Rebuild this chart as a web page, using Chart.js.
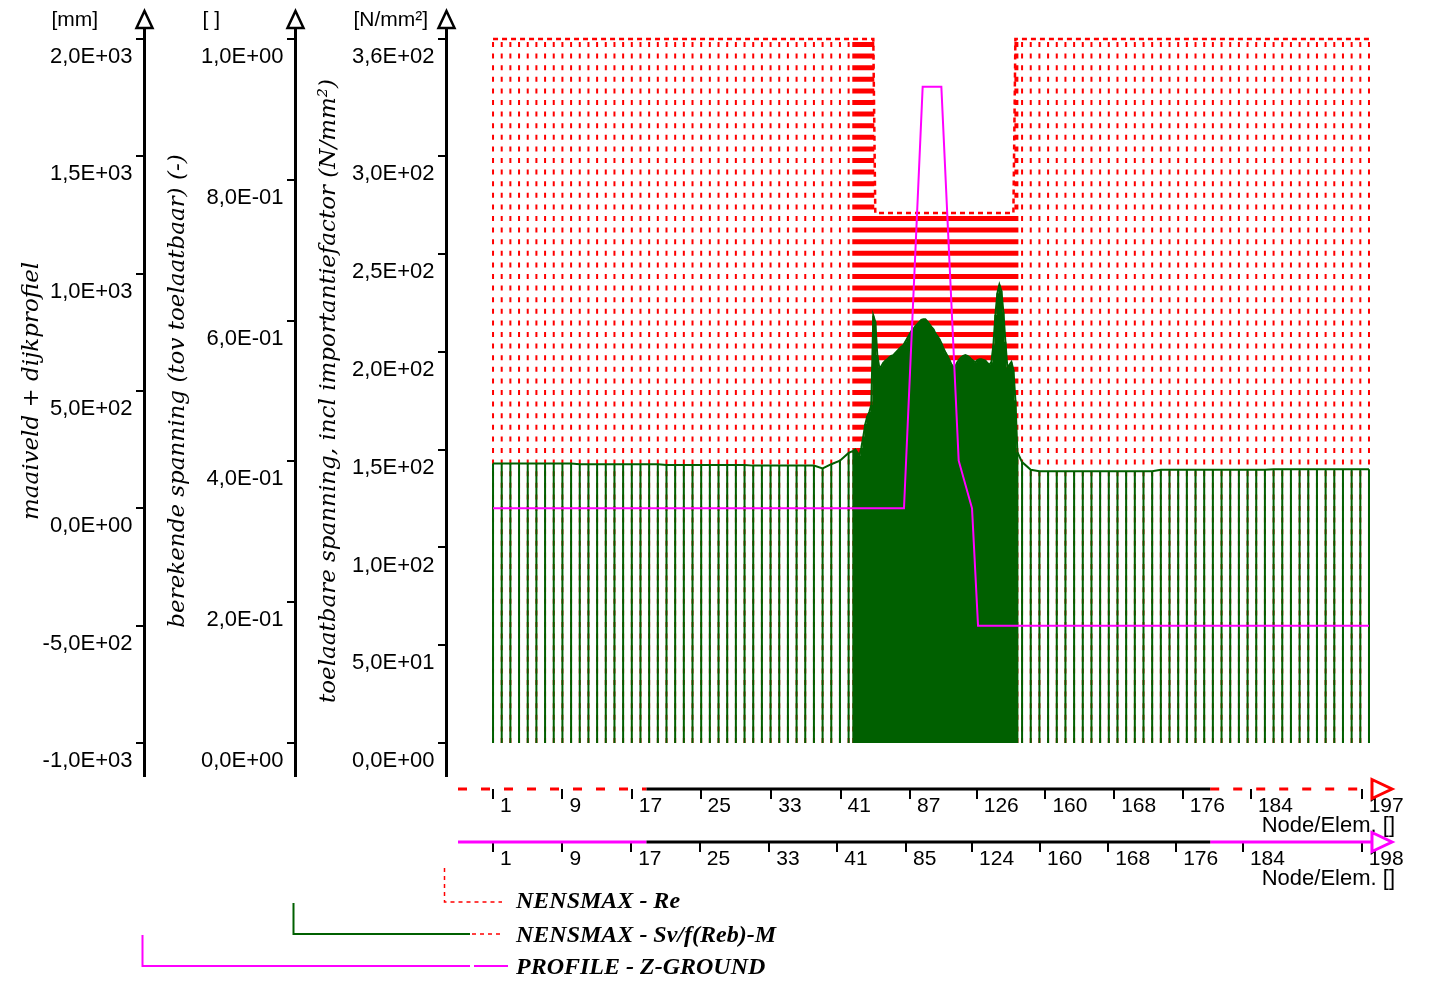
<!DOCTYPE html>
<html lang="nl">
<head>
<meta charset="utf-8">
<title>NENSMAX - spanningsverloop langs de leiding</title>
<script src="https://cdn.jsdelivr.net/npm/chart.js@4.4.1/dist/chart.umd.min.js"></script>
<style>
  html, body { margin: 0; padding: 0; background: #fff; }
  canvas { display: block; }
</style>
</head>
<body>
<canvas id="grafiek" width="1431" height="983"></canvas>
<script>
// Knooppunten langs de leiding (positie langs de as): links, dijkvak, rechts
const knoopXLinks = [0, 13, 26, 39, 52, 65, 78, 91, 104, 117, 130, 143, 156, 169, 182, 195, 208, 221, 234, 247,
  260, 273, 286, 299, 312, 325, 338, 351, 364, 377, 390, 403, 416, 429, 442, 455, 468, 481, 494, 507, 520, 533];
const knoopXDijk = [540, 543, 546, 549, 552, 555, 558, 561, 564, 567,
  570, 573, 576, 579, 582, 585, 588, 591, 594, 597,
  600, 603, 606, 609, 612, 615, 618, 621, 624, 627,
  630, 633, 636, 639, 642, 645, 648, 651, 654, 657,
  660, 663, 666, 669, 672, 675, 678, 681, 684, 687,
  690, 693, 696, 699, 702, 705, 708, 711, 714, 717,
  720, 723, 726, 729, 732, 735, 738, 741, 744, 747,
  750, 753, 756, 759, 762, 765, 768, 771, 774, 777,
  780, 783, 786];
const knoopXRechts = [793, 806, 819, 832, 845, 858, 871, 884, 897, 910,
  923, 936, 949, 962, 975, 988, 1001, 1014, 1027, 1040,
  1053, 1066, 1079, 1092, 1105, 1118, 1131, 1144, 1157, 1170,
  1183, 1196, 1209, 1222, 1235, 1248, 1261, 1274, 1287, 1300, 1313];

// NENSMAX - Re: toelaatbare spanning per knoop [N/mm2]
const reLinks = [360, 360, 360, 360, 360, 360, 360, 360, 360, 360, 360, 360, 360, 360, 360, 360, 360, 360, 360, 360, 360,
  360, 360, 360, 360, 360, 360, 360, 360, 360, 360, 360, 360, 360, 360, 360, 360, 360, 360, 360, 360, 360];
const reDijk = [360, 360, 360, 360, 360, 360, 360, 360, 360, 360,
  360, 271, 271, 271, 271, 271, 271, 271, 271, 271,
  271, 271, 271, 271, 271, 271, 271, 271, 271, 271,
  271, 271, 271, 271, 271, 271, 271, 271, 271, 271,
  271, 271, 271, 271, 271, 271, 271, 271, 271, 271,
  271, 271, 271, 271, 271, 271, 271, 271, 271, 271,
  271, 271, 271, 271, 271, 271, 271, 271, 271, 271,
  271, 271, 271, 271, 271, 271, 271, 271, 271, 271,
  271, 360, 360];
const reRechts = [360, 360, 360, 360, 360, 360, 360, 360, 360, 360, 360, 360, 360, 360, 360, 360, 360, 360, 360, 360, 360,
  360, 360, 360, 360, 360, 360, 360, 360, 360, 360, 360, 360, 360, 360, 360, 360, 360, 360, 360, 360];

// NENSMAX - Sv/f(Reb)-M: berekende spanning t.o.v. toelaatbaar [-]
const svLinks = [0.397, 0.397, 0.397, 0.397, 0.397, 0.397, 0.397, 0.397, 0.397, 0.397,
  0.396, 0.396, 0.396, 0.396, 0.396, 0.396, 0.396, 0.396, 0.396, 0.396,
  0.395, 0.395, 0.395, 0.395, 0.395, 0.395, 0.395, 0.395, 0.395, 0.395,
  0.394, 0.394, 0.394, 0.394, 0.394, 0.394, 0.394, 0.394, 0.390, 0.396, 0.401, 0.412];
const svDijk = [0.415, 0.417, 0.413, 0.408, 0.419, 0.435, 0.453, 0.464, 0.470, 0.480,
  0.607, 0.598, 0.551, 0.533, 0.535, 0.540, 0.543, 0.545, 0.548, 0.550,
  0.551, 0.554, 0.557, 0.560, 0.563, 0.565, 0.570, 0.575, 0.580, 0.585,
  0.588, 0.592, 0.595, 0.598, 0.601, 0.602, 0.602, 0.599, 0.595, 0.591,
  0.588, 0.582, 0.578, 0.574, 0.568, 0.561, 0.555, 0.550, 0.544, 0.538,
  0.534, 0.535, 0.541, 0.545, 0.548, 0.550, 0.551, 0.550, 0.548, 0.545,
  0.543, 0.541, 0.544, 0.545, 0.545, 0.544, 0.543, 0.540, 0.537, 0.541,
  0.565, 0.608, 0.639, 0.651, 0.642, 0.612, 0.570, 0.533, 0.537, 0.541,
  0.530, 0.487, 0.413];
const svRechts = [0.399, 0.388, 0.386, 0.386, 0.386, 0.386, 0.386, 0.386, 0.386, 0.386,
  0.386, 0.386, 0.386, 0.386, 0.386, 0.386, 0.388, 0.388, 0.388, 0.388,
  0.388, 0.388, 0.388, 0.388, 0.388, 0.388, 0.388, 0.388, 0.388, 0.389,
  0.389, 0.389, 0.389, 0.389, 0.389, 0.389, 0.389, 0.389, 0.389, 0.389, 0.389];

// PROFILE - Z-GROUND: maaiveld + dijkprofiel [mm]
const profielX = [0, 616, 644, 672, 698, 718, 727, 1313];
const profielZ = [0, 0, 1797, 1797, 203, 0, -500, -500];

// Asindeling
const elemTickPos = [0, 104, 208, 311, 417, 521, 625, 725, 828, 931, 1034, 1136, 1302];
const elemTickLabels = ['1', '9', '17', '25', '33', '41', '87', '126', '160', '168', '176', '184', '197'];
const profTickPos = [0, 104, 207, 310, 414, 516, 619, 718, 820, 922, 1024, 1124, 1302];
const profTickLabels = ['1', '9', '17', '25', '33', '41', '85', '124', '160', '168', '176', '184', '198'];
const mmTicks = [-1000, -500, 0, 500, 1000, 1500, 2000];
const ratioTicks = [0, 0.2, 0.4, 0.6, 0.8, 1];
const spanningTicks = [0, 50, 100, 150, 200, 250, 300, 360];

const X_MIN = -67.5, X_MAX = 1352;
const asVan = -52.5, bereikVan = 230, bereikTot = 1075, asTot = 1317.5;

const GROEN = '#006000', ROOD = '#ff0000', MAGENTA = '#ff00ff';
const SANS = '"Liberation Sans", Arial, sans-serif';

const knoopX = knoopXLinks.concat(knoopXDijk, knoopXRechts);
const re = reLinks.concat(reDijk, reRechts);
const sv = svLinks.concat(svDijk, svRechts);

// verticale lijn per knoop, van 0 tot de waarde
function staven(waarden) {
  const punten = [];
  knoopX.forEach((x, i) => {
    punten.push({ x: x, y: 0 }, { x: x, y: waarden[i] }, { x: x, y: null });
  });
  return punten;
}
const verloop = waarden => knoopX.map((x, i) => ({ x: x, y: waarden[i] }));

// 2000 -> "2,0E+03"
function eNotatie(v) {
  if (v === 0) return '0,0E+00';
  const exp = Math.floor(Math.log10(Math.abs(v)) + 1e-9);
  const mant = (v / Math.pow(10, exp)).toFixed(1).replace('.', ',');
  return mant + 'E' + (exp < 0 ? '-' : '+') + String(Math.abs(exp)).padStart(2, '0');
}

function yAs(titel, min, max, tickWaarden, breedte, gewicht) {
  return {
    type: 'linear', position: 'left', min: min, max: max, weight: gewicht,
    afterBuildTicks: s => { s.ticks = tickWaarden.map(v => ({ value: v })); },
    afterFit: s => { s.width = breedte; s.paddingTop = 0; s.paddingBottom = 0; },
    border: { display: false },
    grid: { drawOnChartArea: false, drawTicks: true, tickLength: 10, color: '#000', lineWidth: 2 },
    ticks: {
      callback: v => eNotatie(v), color: '#000', padding: 3.5, labelOffset: 18,
      autoSkip: false, font: { family: SANS, size: 22 }
    },
    title: {
      display: true, text: titel, color: '#000',
      font: { family: '"DejaVu Serif", serif', style: 'italic', size: 23 },
      padding: { top: 18, bottom: 0 }
    }
  };
}

function xAs(tickPos, tickLabels, hoogte, gewicht, titelMarge) {
  return {
    type: 'linear', position: 'bottom', min: X_MIN, max: X_MAX, weight: gewicht,
    afterBuildTicks: s => { s.ticks = tickPos.map(v => ({ value: v })); },
    afterFit: s => { s.height = hoogte; s.paddingLeft = 0; s.paddingRight = 0; },
    border: { display: false },
    grid: { drawOnChartArea: false, drawTicks: true, tickLength: 10, color: '#000', lineWidth: 2 },
    ticks: {
      callback: (v, i) => tickLabels[i], color: '#000', align: 'start', labelOffset: 7,
      padding: -5, maxRotation: 0, autoSkip: false, font: { family: SANS, size: 21 }
    },
    title: {
      display: true, text: 'Node/Elem. []', align: 'end', color: '#000',
      font: { family: SANS, size: 22 }, padding: { top: 0, bottom: titelMarge }
    }
  };
}

const yAssen = [
  { id: 'yMaaiveld', eenheid: '[mm]' },
  { id: 'yRatio', eenheid: '[ ]' },
  { id: 'ySpanning', eenheid: '[N/mm\u00b2]' }
];

// assen, pijlpunten en legenda met verbindingslijnen
const decoratie = {
  id: 'decoratie',
  afterDraw(chart) {
    const { ctx, chartArea: ca, scales } = chart;
    ctx.save();
    ctx.lineCap = 'butt';

    yAssen.forEach(a => {
      const ax = scales[a.id].right - 1.5;
      ctx.setLineDash([]);
      ctx.strokeStyle = '#000';
      ctx.lineWidth = 3;
      ctx.beginPath();
      ctx.moveTo(ax, ca.top - 11);
      ctx.lineTo(ax, ca.bottom + 34);
      ctx.stroke();
      ctx.beginPath();
      ctx.moveTo(ax, ca.top - 28);
      ctx.lineTo(ax + 8, ca.top - 11);
      ctx.lineTo(ax - 8, ca.top - 11);
      ctx.closePath();
      ctx.fillStyle = '#fff';
      ctx.fill();
      ctx.lineWidth = 2.5;
      ctx.stroke();
      ctx.fillStyle = '#000';
      ctx.font = '21px ' + SANS;
      ctx.textAlign = 'left';
      ctx.textBaseline = 'middle';
      ctx.fillText(a.eenheid, ax - 93, ca.top - 19);
    });

    const sx = scales.x;
    const p0 = sx.getPixelForValue(asVan), p1 = sx.getPixelForValue(bereikVan);
    const p2 = sx.getPixelForValue(bereikTot), p3 = sx.getPixelForValue(asTot);
    const lijn = (xa, ya, xb, yb) => { ctx.beginPath(); ctx.moveTo(xa, ya); ctx.lineTo(xb, yb); ctx.stroke(); };
    const asLijn = (y, kleur, streep) => {
      ctx.lineWidth = 3;
      ctx.strokeStyle = kleur;
      ctx.setLineDash(streep);
      lijn(p0, y, p1, y);
      lijn(p2, y, p3, y);
      ctx.setLineDash([]);
      ctx.strokeStyle = '#000';
      lijn(p1, y, p2, y);
      ctx.beginPath();
      ctx.moveTo(p3, y - 9.5);
      ctx.lineTo(p3 + 20, y);
      ctx.lineTo(p3, y + 9.5);
      ctx.closePath();
      ctx.fillStyle = '#fff';
      ctx.fill();
      ctx.strokeStyle = kleur;
      ctx.stroke();
    };
    asLijn(scales.xElem.top, ROOD, [9, 14]);
    asLijn(scales.xProf.top, MAGENTA, []);

    // legenda
    const r = scales.ySpanning.right - 3.5;
    const g = scales.yRatio.right - 3.5;
    const m = scales.yMaaiveld.right - 3.5;
    ctx.lineWidth = 1.5;
    ctx.strokeStyle = ROOD;
    ctx.setLineDash([4, 4]);
    ctx.beginPath(); ctx.moveTo(r, 868); ctx.lineTo(r, 902); ctx.lineTo(502, 902); ctx.stroke();
    lijn(472, 934, 502, 934);
    ctx.setLineDash([]);
    ctx.lineWidth = 2;
    ctx.strokeStyle = GROEN;
    ctx.beginPath(); ctx.moveTo(g, 903); ctx.lineTo(g, 934); ctx.lineTo(470, 934); ctx.stroke();
    ctx.strokeStyle = MAGENTA;
    ctx.beginPath(); ctx.moveTo(m, 935); ctx.lineTo(m, 966); ctx.lineTo(470, 966); ctx.stroke();
    lijn(474, 966, 508, 966);

    ctx.fillStyle = '#000';
    ctx.font = 'italic bold 24px "Liberation Serif", serif';
    ctx.textAlign = 'left';
    ctx.textBaseline = 'alphabetic';
    const ds = chart.data.datasets;
    ctx.fillText(ds[3].label, 516, 908);
    ctx.fillText(ds[1].label, 516, 941.5);
    ctx.fillText(ds[0].label, 516, 973.5);
    ctx.restore();
  }
};

const lijnStijl = { pointRadius: 0, fill: false, tension: 0, spanGaps: false, xAxisID: 'x', clip: 4 };

new Chart(document.getElementById('grafiek'), {
  type: 'line',
  data: {
    datasets: [
      Object.assign({
        label: 'PROFILE - Z-GROUND', order: 0, yAxisID: 'yMaaiveld',
        data: profielX.map((x, i) => ({ x: x, y: profielZ[i] })),
        borderColor: MAGENTA, borderWidth: 2
      }, lijnStijl),
      Object.assign({
        label: 'NENSMAX - Sv/f(Reb)-M', order: 1, yAxisID: 'yRatio',
        data: verloop(sv), borderColor: GROEN, borderWidth: 2
      }, lijnStijl),
      Object.assign({
        label: 'Sv staven', order: 2, yAxisID: 'yRatio',
        data: staven(sv), borderColor: GROEN, borderWidth: 2
      }, lijnStijl),
      Object.assign({
        label: 'NENSMAX - Re', order: 3, yAxisID: 'ySpanning',
        data: verloop(re), borderColor: ROOD, borderWidth: 2.5, borderDash: [5, 4]
      }, lijnStijl),
      Object.assign({
        label: 'Re staven', order: 4, yAxisID: 'ySpanning',
        data: staven(re), borderColor: ROOD, borderWidth: 2, borderDash: [5, 6.6]
      }, lijnStijl)
    ]
  },
  options: {
    responsive: false,
    animation: false,
    events: [],
    layout: { padding: { top: 39, right: 36, bottom: 91, left: 0 } },
    plugins: { legend: { display: false }, tooltip: { enabled: false } },
    scales: {
      x: { type: 'linear', display: false, min: X_MIN, max: X_MAX },
      xRuimte: {
        type: 'linear', position: 'bottom', min: X_MIN, max: X_MAX, weight: 0,
        grid: { display: false }, border: { display: false }, ticks: { display: false },
        afterFit: s => { s.height = 46; s.paddingLeft = 0; s.paddingRight = 0; }
      },
      xElem: xAs(elemTickPos, elemTickLabels, 53, 1, 3),
      xProf: xAs(profTickPos, profTickLabels, 50, 2, 0),
      yMaaiveld: yAs('maaiveld + dijkprofiel', -1000, 2000, mmTicks, 146, 3),
      yRatio: yAs('berekende spanning (tov toelaatbaar) (-)', 0, 1, ratioTicks, 151, 2),
      ySpanning: yAs('toelaatbare spanning, incl importantiefactor (N/mm\u00b2)', 0, 360, spanningTicks, 151, 1)
    }
  },
  plugins: [decoratie]
});
</script>
</body>
</html>
